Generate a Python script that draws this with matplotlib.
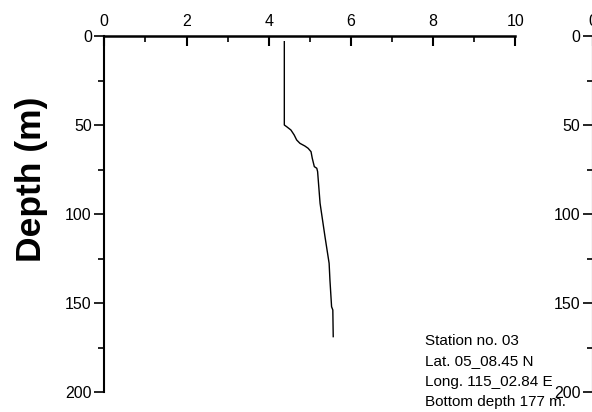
import matplotlib
matplotlib.use("Agg")
import matplotlib.pyplot as plt
from matplotlib.ticker import MultipleLocator

plt.rcParams['font.family'] = ['Liberation Sans', 'DejaVu Sans']

# Profile values along depth (m)
profile_value = [4.38, 4.38, 4.44, 4.54, 4.62, 4.68, 4.76, 4.88, 4.96, 5.03,
                 5.06, 5.11, 5.17, 5.19, 5.25, 5.37, 5.47, 5.49, 5.53, 5.56, 5.57]
depth_m = [3.2, 50.0, 51.0, 52.8, 55.6, 58.4, 60.3, 61.8, 63.1, 65.0,
           68.7, 73.4, 74.3, 76.2, 94.0, 112.8, 127.7, 137.1, 152.1, 153.9, 168.9]

station_lines = ["Station no. 03", "Lat. 05_08.45 N",
                 "Long. 115_02.84 E", "Bottom depth 177 m."]

W, H = 592, 412
fig = plt.figure(figsize=(W / 100, H / 100), dpi=100)

def style_axes(ax, xmax):
    ax.set_ylim(200, 0)
    ax.set_xlim(0, xmax)
    for side in ("right", "bottom"):
        ax.spines[side].set_visible(False)
    ax.spines["top"].set_linewidth(1.8)
    ax.spines["left"].set_linewidth(1.5)
    ax.xaxis.tick_top()
    ax.xaxis.set_major_locator(MultipleLocator(2))
    ax.xaxis.set_minor_locator(MultipleLocator(1))
    ax.yaxis.set_major_locator(MultipleLocator(50))
    ax.yaxis.set_minor_locator(MultipleLocator(25))
    ax.tick_params(axis="x", which="major", direction="in", length=7, width=1.5,
                   labelsize=11.5, pad=5)
    ax.tick_params(axis="x", which="minor", direction="in", length=4, width=1.2)
    ax.tick_params(axis="y", which="major", direction="out", length=7, width=1.2,
                   labelsize=11.5, pad=2)
    ax.tick_params(axis="y", which="minor", direction="out", length=4, width=1.2)

y0, y1 = 36, 392
ax = fig.add_axes([104.3 / W, (H - y1) / H, 411 / W, (y1 - y0) / H])
style_axes(ax, 10)
ax.plot(profile_value, depth_m, color="black", linewidth=1.0)
ax.set_ylabel("Depth (m)", fontsize=25.5, fontweight="bold", va="center")
ax.yaxis.set_label_coords(-0.176, 0.598)

ax2 = fig.add_axes([593 / W, (H - y1) / H, 411 / W, (y1 - y0) / H])
style_axes(ax2, 10)

for i, line in enumerate(station_lines):
    fig.text(425 / W, 1 - (345 + i * 20.3) / H, line, fontsize=11,
             ha="left", va="baseline")

fig.savefig("out.png", dpi=100)
